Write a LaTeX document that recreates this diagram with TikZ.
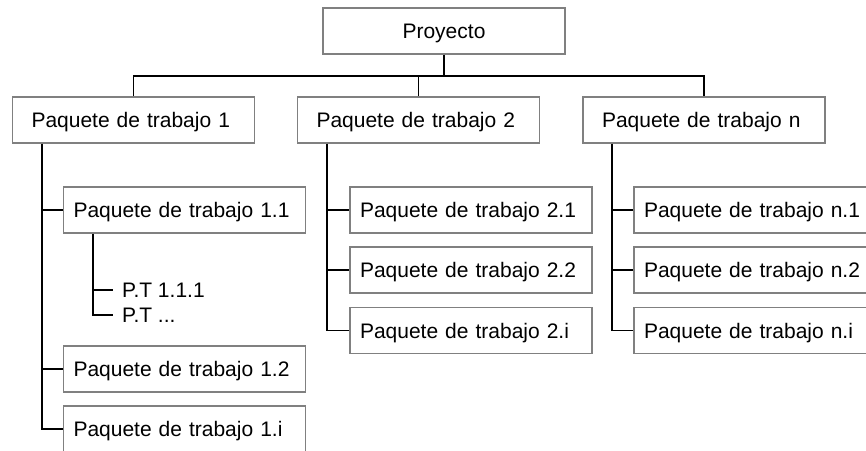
\documentclass[tikz,border=0pt]{standalone}
\usepackage{fontspec}
\setmainfont{Liberation Sans}
\usetikzlibrary{positioning}

\begin{document}
\begin{tikzpicture}[x=1pt,y=-1pt,
  caja/.style={draw=gray,line width=1.6pt,minimum width=242pt,minimum height=46pt,
    inner xsep=10pt,text width=222pt,align=left,text height=15pt,text depth=0pt,
    font=\fontsize{21}{25}\selectfont},
  principal/.style={caja,inner xsep=19pt,text width=204pt},
  linea/.style={line width=1.6pt,black},
  rotulo/.style={anchor=west,inner xsep=9pt,font=\fontsize{21}{25}\selectfont}]
\useasboundingbox(0,0)rectangle(866,450);
% raiz
\node[caja,align=center](proy)at(444,31){Proyecto};
\node[principal](pt1)at(133.5,120){Paquete de trabajo 1};
\node[principal](pt2)at(418.5,120){Paquete de trabajo 2};
\node[principal](ptn)at(704,120){Paquete de trabajo n};
% paquete 1
\node[caja](pt11)at(184.5,210){Paquete de trabajo 1.1};
\node[caja](pt12)at(184.5,369){Paquete de trabajo 1.2};
\node[caja](pt1i)at(184.5,429){Paquete de trabajo 1.i};
\node[rotulo](pt111)at(113,290){P.T 1.1.1};
\node[rotulo](ptpuntos)at(113,315){P.T ...};
% paquete 2
\node[caja](pt21)at(471,210){Paquete de trabajo 2.1};
\node[caja](pt22)at(471,270){Paquete de trabajo 2.2};
\node[caja](pt2i)at(471,330.5){Paquete de trabajo 2.i};
% paquete n
\node[caja](ptn1)at(755,210){Paquete de trabajo n.1};
\node[caja](ptn2)at(755,270){Paquete de trabajo n.2};
\node[caja](ptni)at(755,330.5){Paquete de trabajo n.i};
% conectores
\coordinate(bus)at(444,76);
\draw[linea](proy.south)--(bus);
\draw[linea](pt1.north)|-(bus)-|(ptn.north);
\draw[linea](pt2.north)--(pt2.north|-bus);
\foreach \h in {pt11,pt12,pt1i}
  \draw[linea]([xshift=30pt]pt1.south west)|-(\h.west);
\foreach \h in {pt111,ptpuntos}
  \draw[linea]([xshift=30pt]pt11.south west)|-(\h.west);
\foreach \h in {pt21,pt22,pt2i}
  \draw[linea]([xshift=30pt]pt2.south west)|-(\h.west);
\foreach \h in {ptn1,ptn2,ptni}
  \draw[linea]([xshift=30pt]ptn.south west)|-(\h.west);
\end{tikzpicture}
\end{document}
